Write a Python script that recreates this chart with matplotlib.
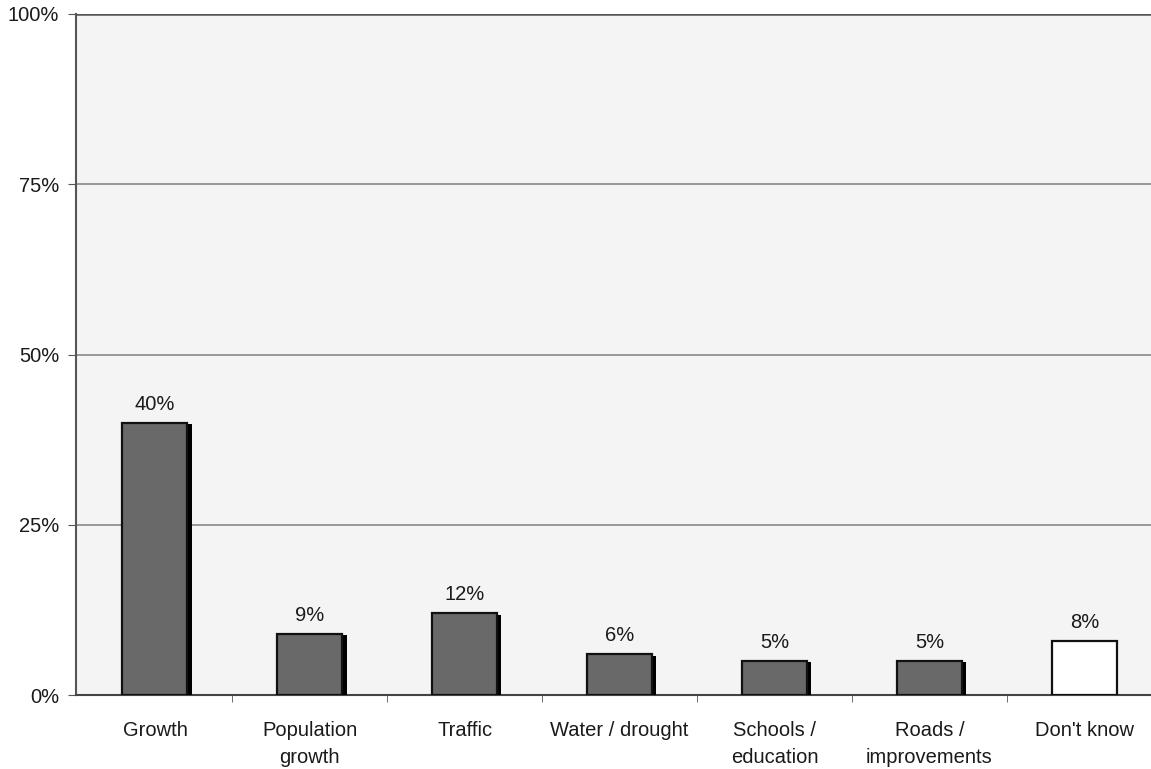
import matplotlib.pyplot as plt
import matplotlib.patheffects as pe
import numpy as np

plt.rcParams['font.family'] = ['Liberation Sans', 'DejaVu Sans']

categories = ['Growth', 'Population\ngrowth', 'Traffic', 'Water / drought',
              'Schools /\neducation', 'Roads /\nimprovements', "Don't know"]
values = [40, 9, 12, 6, 5, 5, 8]
bar_colors = ['#696969'] * 6 + ['#ffffff']

fig = plt.figure(figsize=(11.51, 7.69), dpi=100)
ax = fig.add_axes([0.066, 0.0962, 0.934, 0.8856])
ax.set_facecolor('#f4f4f4')

x = np.arange(len(categories))
bars = ax.bar(x, values, width=0.42, color=bar_colors, edgecolor='#111111',
              linewidth=1.6, zorder=3)
for b, c in zip(bars, bar_colors):
    if c != '#ffffff':
        b.set_path_effects([pe.SimplePatchShadow(offset=(3, -1), shadow_rgbFace='black', alpha=1.0),
                            pe.Normal()])

for xi, v in zip(x, values):
    ax.text(xi, v + 1.3, f'{v}%', ha='center', va='bottom', fontsize=14.5, color='#1a1a1a')

ax.set_ylim(0, 100)
ax.set_xlim(-0.51, 6.43)
ax.set_yticks([0, 25, 50, 75, 100])
ax.set_yticklabels(['0%', '25%', '50%', '75%', '100%'], fontsize=14.5, color='#1a1a1a')
ax.yaxis.grid(True, color='#8a8a8a', linewidth=1.2, zorder=0)
ax.set_axisbelow(True)
ax.tick_params(axis='y', length=6, color='#555555', pad=6)

ax.set_xticks(x)
ax.set_xticklabels(categories, fontsize=14.5, linespacing=1.5, color='#1a1a1a')
ax.tick_params(axis='x', length=0, pad=19)
ax.set_xticks(np.arange(0.5, 6.5, 1), minor=True)
ax.tick_params(axis='x', which='minor', length=5, color='#555555')

for s in ['top', 'right']:
    ax.spines[s].set_visible(False)
ax.spines['left'].set_color('#555555')
ax.spines['left'].set_linewidth(1.5)
ax.spines['bottom'].set_color('#444444')
ax.spines['bottom'].set_linewidth(1.5)
ax.axhline(100, color='#555555', linewidth=1.8, zorder=1)

fig.savefig('out.png', dpi=100, facecolor='white')
